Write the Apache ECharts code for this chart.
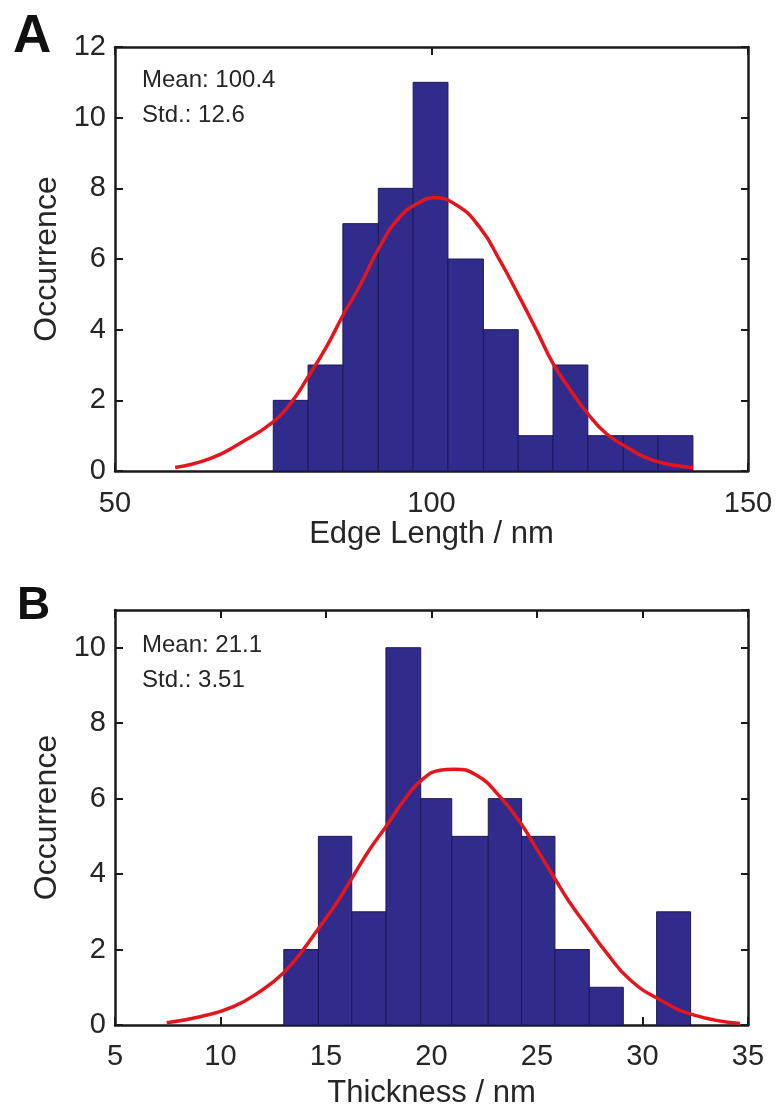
<!DOCTYPE html>
<html>
<head>
<meta charset="utf-8">
<script src="https://cdn.jsdelivr.net/npm/echarts@6/dist/echarts.min.js"></script>
<style>html,body{margin:0;padding:0;background:#fff}#c{width:782px;height:1115px}</style>
</head>
<body>
<div id="c"></div>
<script>
// ---- Panel A: edge length histogram ----
const edgeBinEdges = [75.0, 80.5, 86.0, 91.6, 97.1, 102.6, 108.2, 113.7, 119.2, 124.7, 130.3, 135.8, 141.3];
const edgeCounts = [2, 3, 7, 8, 11, 6, 4, 1, 3, 1, 1, 1];
const edgeFitX = [59.5, 65.0, 69.7, 75.0, 77.9, 80.5, 83.4, 86.0, 88.7, 91.8, 95.0, 98.2, 100.3, 104.0, 107.6, 110.8, 113.9, 116.6, 119.2, 121.8, 124.7, 127.6, 130.8, 135.0, 141.3];
const edgeFitY = [0.10, 0.35, 0.78, 1.39, 1.95, 2.66, 3.51, 4.40, 5.25, 6.34, 7.19, 7.61, 7.73, 7.52, 6.90, 5.96, 4.92, 3.98, 3.04, 2.33, 1.62, 1.06, 0.68, 0.30, 0.10];
const edgeXTicks = [50, 100, 150];
const edgeYTicks = [0, 2, 4, 6, 8, 10, 12];

// ---- Panel B: thickness histogram ----
const thickBinEdges = [13.00, 14.64, 16.22, 17.84, 19.49, 20.96, 22.69, 24.27, 25.85, 27.48, 29.09, 30.67, 32.28];
const thickCounts = [2, 5, 3, 10, 6, 5, 6, 5, 2, 1, 0, 3];
const thickFitX = [7.45, 9.03, 10.61, 11.87, 12.98, 13.92, 14.72, 15.51, 16.29, 17.09, 17.88, 18.82, 19.61, 20.40, 21.05, 22.14, 23.25, 24.19, 24.98, 25.77, 26.56, 27.36, 28.30, 29.41, 30.83, 32.41, 34.62];
const thickFitY = [0.06, 0.22, 0.49, 0.89, 1.38, 2.00, 2.62, 3.24, 3.95, 4.67, 5.29, 6.05, 6.53, 6.75, 6.78, 6.62, 6.05, 5.38, 4.67, 3.95, 3.24, 2.62, 1.91, 1.20, 0.67, 0.27, 0.04];
const thickXTicks = [5, 10, 15, 20, 25, 30, 35];
const thickYTicks = [0, 2, 4, 6, 8, 10];

const FONT = '"Liberation Sans", Arial, Helvetica, sans-serif';
const TXT = '#262626';
const FRAME = '#1a1a1a';
const BAR = '#312b8b';
const BAR_EDGE = '#1d1957';
const FIT = '#e3161e';

function binData(edges, counts) {
  return counts.map((c, i) => [edges[i], edges[i + 1], c]);
}
function pairs(xs, ys) { return xs.map((x, i) => [x, ys[i]]); }

function renderBin(params, api) {
  const x0 = api.value(0), x1 = api.value(1), c = api.value(2);
  if (!c) return null;
  const p0 = api.coord([x0, c]);
  const p1 = api.coord([x1, 0]);
  return {
    type: 'rect',
    shape: { x: p0[0], y: p0[1], width: p1[0] - p0[0], height: p1[1] - p0[1] },
    style: { fill: BAR, stroke: BAR_EDGE, lineWidth: 1 }
  };
}

function mainX(grid, ticks, name, gap, margin) {
  return {
    type: 'value', gridIndex: grid, position: 'bottom',
    min: ticks[0], max: ticks[ticks.length - 1], interval: ticks[1] - ticks[0],
    axisLine: { show: true, onZero: false, lineStyle: { color: FRAME, width: 2.5 } },
    axisTick: { show: true, inside: true, length: 8, lineStyle: { color: FRAME, width: 2 } },
    axisLabel: { show: true, margin: margin, fontSize: 29, color: TXT, fontFamily: FONT },
    splitLine: { show: false },
    name: name, nameLocation: 'middle', nameGap: gap,
    nameTextStyle: { fontSize: 31, color: TXT, fontFamily: FONT }
  };
}
function topX(grid, ticks) {
  return {
    type: 'value', gridIndex: grid, position: 'top',
    min: ticks[0], max: ticks[ticks.length - 1], interval: ticks[1] - ticks[0],
    axisLine: { show: true, onZero: false, lineStyle: { color: FRAME, width: 2.5 } },
    axisTick: { show: true, inside: true, length: 8, lineStyle: { color: FRAME, width: 2 } },
    axisLabel: { show: false }, splitLine: { show: false }
  };
}
function leftY(grid, ticks, max) {
  return {
    type: 'value', gridIndex: grid, position: 'left',
    min: ticks[0], max: max, interval: ticks[1] - ticks[0],
    axisLine: { show: true, onZero: false, lineStyle: { color: FRAME, width: 2.5 } },
    axisTick: { show: true, inside: true, length: 8, lineStyle: { color: FRAME, width: 2 } },
    axisLabel: { show: true, margin: 9, fontSize: 29, color: TXT, fontFamily: FONT,
      showMaxLabel: max === ticks[ticks.length - 1] },
    splitLine: { show: false },
    name: 'Occurrence', nameLocation: 'middle', nameGap: 50, nameRotate: 90,
    nameTextStyle: { fontSize: 32, color: TXT, fontFamily: FONT }
  };
}
function rightY(grid, ticks, max) {
  return {
    type: 'value', gridIndex: grid, position: 'right',
    min: ticks[0], max: max, interval: ticks[1] - ticks[0],
    axisLine: { show: true, onZero: false, lineStyle: { color: FRAME, width: 2.5 } },
    axisTick: { show: true, inside: true, length: 7, lineStyle: { color: FRAME, width: 2 } },
    axisLabel: { show: false }, splitLine: { show: false }
  };
}

const chart = echarts.init(document.getElementById('c'), null, { renderer: 'canvas' });
chart.setOption({
  backgroundColor: '#ffffff',
  animation: false,
  grid: [
    { left: 115, top: 47, width: 633, height: 424, containLabel: false, outerBoundsMode: 'none' },
    { left: 115, top: 610, width: 633, height: 415, containLabel: false, outerBoundsMode: 'none' }
  ],
  xAxis: [
    mainX(0, edgeXTicks, 'Edge Length / nm', 47, 18),
    topX(0, edgeXTicks),
    mainX(1, thickXTicks, 'Thickness / nm', 53, 17),
    topX(1, thickXTicks)
  ],
  yAxis: [
    leftY(0, edgeYTicks, 12),
    rightY(0, edgeYTicks, 12),
    leftY(1, thickYTicks, 11),
    rightY(1, thickYTicks, 11)
  ],
  series: [
    { type: 'custom', xAxisIndex: 0, yAxisIndex: 0, renderItem: renderBin,
      data: binData(edgeBinEdges, edgeCounts), encode: { x: [0, 1], y: 2 }, z: 2 },
    { type: 'line', xAxisIndex: 0, yAxisIndex: 0, data: pairs(edgeFitX, edgeFitY),
      smooth: true, showSymbol: false, lineStyle: { color: FIT, width: 3.5 }, z: 3 },
    { type: 'custom', xAxisIndex: 2, yAxisIndex: 2, renderItem: renderBin,
      data: binData(thickBinEdges, thickCounts), encode: { x: [0, 1], y: 2 }, z: 2 },
    { type: 'line', xAxisIndex: 2, yAxisIndex: 2, data: pairs(thickFitX, thickFitY),
      smooth: true, showSymbol: false, lineStyle: { color: FIT, width: 3.5 }, z: 3 }
  ],
  graphic: [
    { type: 'text', x: 13, y: 37, style: { text: 'A', font: 'bold 53px ' + FONT, fill: '#111', verticalAlign: 'middle' } },
    { type: 'text', x: 17, y: 606, style: { text: 'B', font: 'bold 46px ' + FONT, fill: '#111', verticalAlign: 'middle' } },
    { type: 'text', x: 142, y: 80, style: { text: 'Mean: 100.4', font: '24px ' + FONT, fill: TXT, verticalAlign: 'middle' } },
    { type: 'text', x: 142, y: 115, style: { text: 'Std.: 12.6', font: '24px ' + FONT, fill: TXT, verticalAlign: 'middle' } },
    { type: 'text', x: 142, y: 645, style: { text: 'Mean: 21.1', font: '24px ' + FONT, fill: TXT, verticalAlign: 'middle' } },
    { type: 'text', x: 142, y: 680, style: { text: 'Std.: 3.51', font: '24px ' + FONT, fill: TXT, verticalAlign: 'middle' } }
  ]
});
</script>
</body>
</html>
